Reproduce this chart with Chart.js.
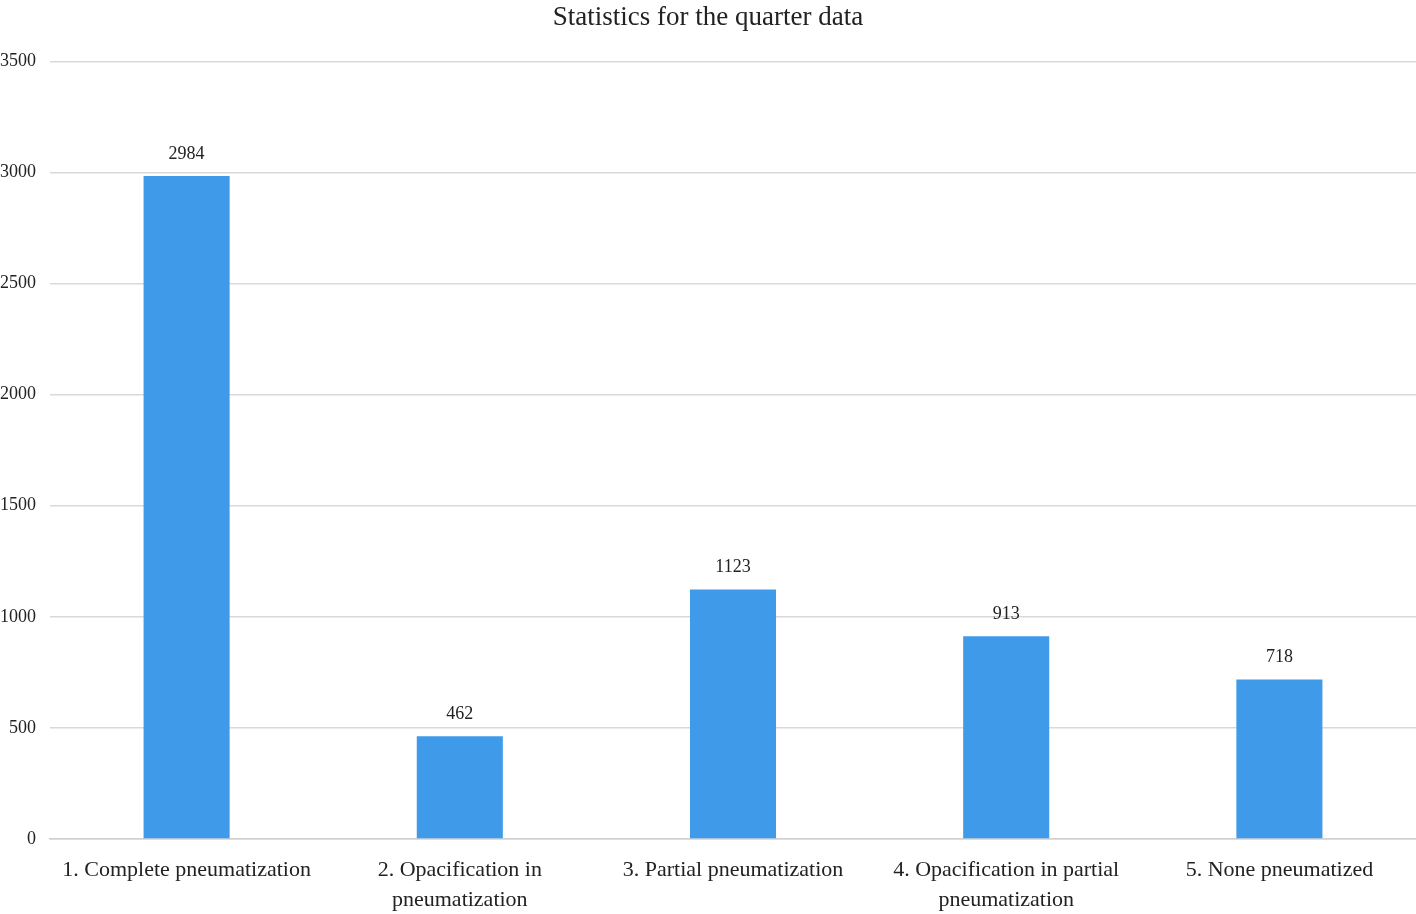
<!DOCTYPE html>
<html>
<head>
<meta charset="utf-8">
<script src="https://cdn.jsdelivr.net/npm/chart.js@4.4.1/dist/chart.umd.min.js"></script>
<style>
  html, body { margin: 0; padding: 0; background: #fff; }
  #wrap { width: 1416px; height: 914px; }
</style>
</head>
<body>
<div id="wrap"><canvas id="chart"></canvas></div>
<script>
const categories = [
  ["1. Complete pneumatization"],
  ["2. Opacification in", "pneumatization"],
  ["3. Partial pneumatization"],
  ["4. Opacification in partial", "pneumatization"],
  ["5. None pneumatized"]
];
const counts = [2984, 462, 1123, 913, 718];
const yTicks = [0, 500, 1000, 1500, 2000, 2500, 3000, 3500];

const serif = "'Liberation Serif', 'Times New Roman', serif";

const valueLabels = {
  id: "valueLabels",
  afterDatasetsDraw(chart) {
    const ctx = chart.ctx;
    const meta = chart.getDatasetMeta(0);
    ctx.save();
    ctx.font = "18px " + serif;
    ctx.fillStyle = "#222";
    ctx.textAlign = "center";
    ctx.textBaseline = "bottom";
    meta.data.forEach((bar, i) => {
      ctx.fillText(String(counts[i]), bar.x, bar.y - 13);
    });
    ctx.restore();
  }
};

const ctx = document.getElementById("chart").getContext("2d");
new Chart(ctx, {
  type: "bar",
  data: {
    labels: categories,
    datasets: [{
      label: "Count",
      data: counts,
      backgroundColor: "#3f9bea",
      categoryPercentage: 1,
      barPercentage: 0.315
    }]
  },
  options: {
    responsive: true,
    maintainAspectRatio: false,
    animation: false,
    layout: { padding: { left: 0, right: 0, top: 0, bottom: 0 } },
    plugins: {
      legend: { display: false },
      tooltip: { enabled: false },
      title: {
        display: true,
        text: "Statistics for the quarter data",
        color: "#222",
        font: { family: serif, size: 27, weight: "normal" },
        padding: { top: 2, bottom: 27 }
      }
    },
    scales: {
      x: {
        grid: { display: false, drawTicks: false },
        border: { display: true, color: "#d0d0d0", width: 1.5 },
        afterFit(scale) { scale.height = 75; },
        ticks: {
          color: "#222",
          font: { family: serif, size: 22, lineHeight: 1.36 },
          padding: 16,
          maxRotation: 0,
          autoSkip: false
        }
      },
      y: {
        min: 0,
        max: 3500,
        afterBuildTicks(axis) {
          axis.ticks = yTicks.map(v => ({ value: v }));
        },
        afterFit(scale) { scale.width = 50; },
        border: { display: false },
        grid: { color: "#d9d9d9", lineWidth: 1.5, drawTicks: false },
        ticks: {
          color: "#222",
          font: { family: serif, size: 18 },
          padding: 14,
          callback: (v) => String(v)
        }
      }
    }
  },
  plugins: [valueLabels]
});
</script>
</body>
</html>
